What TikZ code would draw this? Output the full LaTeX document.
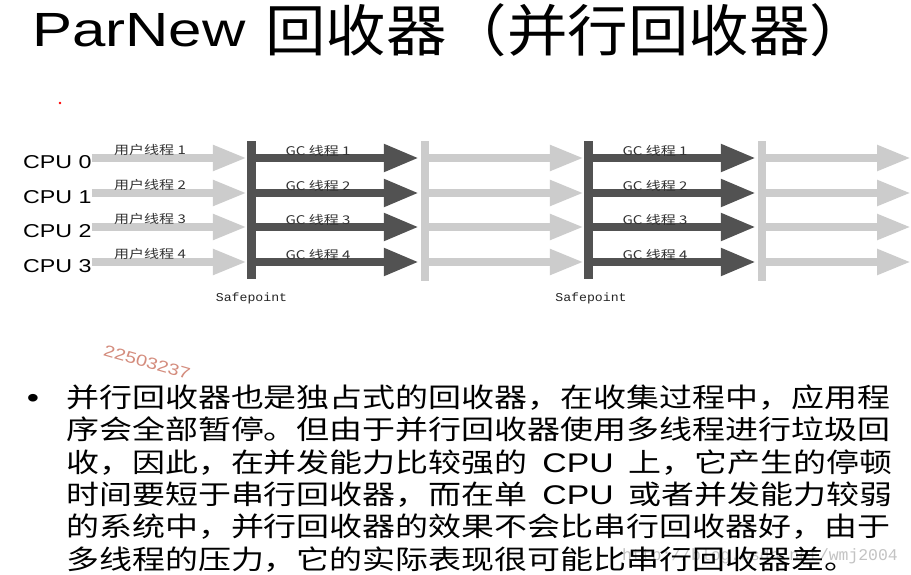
\documentclass[tikz,border=0pt]{standalone}
\usepackage{fontspec}
\setmainfont[FakeStretch=1.25]{Liberation Sans}
\newfontfamily\cjk[FakeStretch=1.25]{Noto Sans CJK SC}
\newfontfamily\cjkbody[FakeStretch=1.23]{Noto Sans CJK SC}
\newfontfamily\cjktitle[FakeStretch=1.08]{Noto Sans CJK SC}
\newfontfamily\spfont[FakeStretch=1.1]{Liberation Mono}
\newfontfamily\urlfont{Liberation Mono}
\usetikzlibrary{arrows.meta}
\definecolor{lightg}{RGB}{204,204,204}
\definecolor{darkg}{RGB}{82,82,82}
\definecolor{lblg}{RGB}{50,50,50}
\definecolor{wmred}{RGB}{212,140,125}
\definecolor{urlg}{RGB}{195,195,195}
\newcommand\latinpart[1]{\hspace{0pt plus 1fil}{\normalfont\fontsize{27}{30}\selectfont #1}\hspace{0pt plus 1fil}}
\begin{document}
\begin{tikzpicture}[x=1pt,y=1pt,
  lightarrow/.style={draw=lightg, line width=8pt, -{Triangle[length=34pt,width=24pt]}},
  darkarrow/.style={draw=darkg, line width=8pt, -{Triangle[length=35pt,width=26pt]}},
  darkbar/.style={fill=darkg, draw=none, minimum width=9pt, minimum height=138pt, inner sep=0pt},
  lightbar/.style={fill=lightg, draw=none, minimum width=8pt, minimum height=139pt, inner sep=0pt},
  cpulabel/.style={anchor=base west, inner sep=0pt, font=\fontsize{18.6}{20}\selectfont},
  thrlabel/.style={inner sep=0pt, text=lblg, font=\cjk\fontsize{12}{13}\selectfont},
  sptext/.style={inner sep=0pt, text=black!85, font=\spfont\fontsize{12}{13}\selectfont},
  bodyline/.style={anchor=base west, inner sep=0pt, font=\cjkbody\fontsize{26.8}{30}\selectfont},
]
\useasboundingbox (0,0) rectangle (911,-575);
\fill[white] (0,0) rectangle (911,-575);

% title
\node[anchor=base west, inner sep=0pt, font=\fontsize{48}{50}\selectfont] (title) at (32,-47) {ParNew};
\node[anchor=base west, inner sep=0pt, font=\cjktitle\fontsize{56}{60}\selectfont] (titlecjk) at (265,-52) {回收器（并行回收器）};

% red dot
\fill[red] (60,-103) circle (1.4);

% rows
\coordinate (r0) at (0,-158);
\coordinate (r1) at (0,-193);
\coordinate (r2) at (0,-227);
\coordinate (r3) at (0,-262);
\coordinate (edge) at (911,0);

% CPU labels
\foreach \i/\y in {0/158,1/193,2/227,3/262}{
  \node[cpulabel] (cpu\i) at (23,{-\y-3.5-6.7}) {CPU \i};
}

% bars
\node[darkbar] (sp1) at (251.5,-210) {};
\node[lightbar] (b1) at (425,-211) {};
\node[darkbar] (sp2) at (588.5,-210) {};
\node[lightbar] (b2) at (762,-211) {};

% arrows
\foreach \i in {0,...,3}{
  \draw[lightarrow] (cpu\i.east |- r\i) -- (sp1.west |- r\i);
  \draw[darkarrow] (sp1.east |- r\i) -- ([xshift=-2pt]b1.west |- r\i);
  \draw[lightarrow] (b1.east |- r\i) -- (sp2.west |- r\i);
  \draw[darkarrow] (sp2.east |- r\i) -- ([xshift=-2pt]b2.west |- r\i);
  \draw[lightarrow] (b2.east |- r\i) -- (edge |- r\i);
}

% thread labels
\foreach \i/\y in {0/158,1/193,2/227,3/262}{
  \pgfmathtruncatemacro\n{\i+1}
  \node[thrlabel] (ut\i) at (150,{-\y+8}) {用户线程 \n};
  \node[thrlabel] (ga\i) at (318,{-\y+7}) {GC 线程 \n};
  \node[thrlabel] (gb\i) at (655,{-\y+7}) {GC 线程 \n};
}

% safepoint labels
\node[sptext] (spl1) at (251.5,-298) {Safepoint};
\node[sptext] (spl2) at (591,-298) {Safepoint};

% watermark number
\node[rotate=-16, text=wmred, inner sep=0pt, font=\fontsize{16}{17}\selectfont] (wm) at (147,-362) {22503237};

% url watermark
\node[anchor=base west, inner sep=0pt, text=urlg, font=\urlfont\fontsize{16.4}{18}\selectfont] (url) at (622,-560) {http://blog.csdn.net/wmj2004};

% bullet and body
\node[anchor=base, inner sep=0pt, font=\fontsize{28}{30}\selectfont] (bullet) at (33,-407.5) {•};
\node[bodyline] (l1) at (66,-407.5) {并行回收器也是独占式的回收器，在收集过程中，应用程};
\node[bodyline] (l2) at (66,-439.8) {序会全部暂停。但由于并行回收器使用多线程进行垃圾回};
\node[bodyline] (l3) at (66,-472.1) {\hbox to 826pt{收，因此，在并发能力比较强的\latinpart{CPU}上，它产生的停顿}};
\node[bodyline] (l4) at (66,-504.4) {\hbox to 826pt{时间要短于串行回收器，而在单\latinpart{CPU}或者并发能力较弱}};
\node[bodyline] (l5) at (66,-536.7) {的系统中，并行回收器的效果不会比串行回收器好，由于};
\node[bodyline] (l6) at (66,-569) {多线程的压力，它的实际表现很可能比串行回收器差。};
\end{tikzpicture}
\end{document}
